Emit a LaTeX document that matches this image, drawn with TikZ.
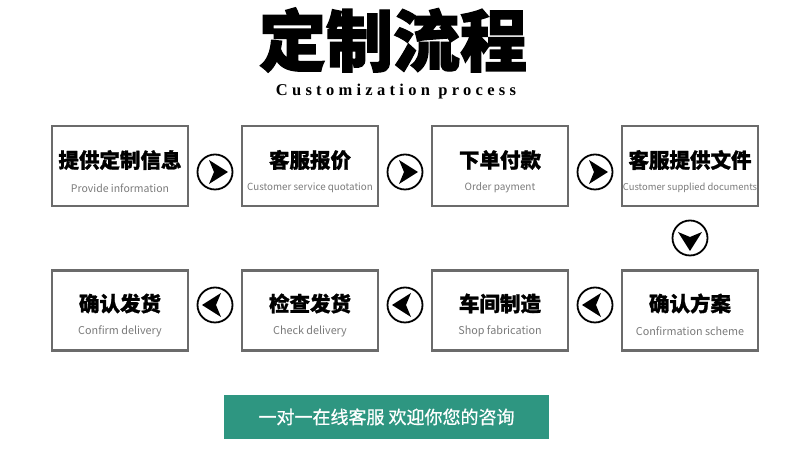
\documentclass[tikz,border=0pt]{standalone}
\usepackage{fontspec}
\newfontfamily\zhfont{Noto Sans CJK SC}[BoldFeatures={FakeBold=1.2}]
\newfontfamily\titlefont{Noto Sans CJK SC}[BoldFeatures={FakeBold=2}]
\newfontfamily\barfont{Noto Sans CJK SC}[FakeBold=0.8]
\newfontfamily\subfont{Liberation Serif}[LetterSpace=26]
\definecolor{boxgray}{HTML}{6B6B6B}
\definecolor{engray}{HTML}{7A7A7A}
\definecolor{bargreen}{HTML}{2E9681}

\begin{document}
\begin{tikzpicture}[x=1pt,y=1pt,node distance=190pt]

\tikzstyle{bx} = [rectangle, minimum width=136pt, minimum height=80pt, draw=boxgray, line width=2.4pt]
\tikzstyle{ci} = [circle, minimum size=35pt, inner sep=0pt, draw=black, line width=1.8pt]
\tikzstyle{zh} = [inner sep=0pt, font=\zhfont\bfseries\fontsize{20.5}{20.5}\selectfont]
\tikzstyle{en} = [inner sep=0pt, text=engray, font=\zhfont\fontsize{10.8}{10.8}\selectfont]
\useasboundingbox (0,0) rectangle (790,449);

\node (title) at (393,409) {\titlefont\bfseries\fontsize{67}{67}\selectfont 定制流程};
\node (sub) at (396,357) {\subfont\bfseries\fontsize{16.5}{16.5}\selectfont Customization process};

% top row
\node (b1) [bx] at (120,283) {};
\node (b2) [bx, right of=b1] {};
\node (b3) [bx, right of=b2] {};
\node (b4) [bx, right of=b3] {};
% bottom row
\node (b5) [bx, below of=b4, node distance=144.5pt] {};
\node (b6) [bx, left of=b5] {};
\node (b7) [bx, left of=b6] {};
\node (b8) [bx, left of=b7] {};

\node (z1) [zh] at ([yshift=6]b1.center) {提供定制信息};
\node (e1) [en, font=\zhfont\fontsize{10.5}{10.5}\selectfont] at ([yshift=-22]b1.center) {Provide information};
\node (z2) [zh] at ([yshift=6]b2.center) {客服报价};
\node (e2) [en, font=\zhfont\fontsize{9.8}{9.8}\selectfont] at ([yshift=-22]b2.center) {Customer service quotation};
\node (z3) [zh] at ([yshift=6]b3.center) {下单付款};
\node (e3) [en, font=\zhfont\fontsize{10}{10}\selectfont] at ([yshift=-22]b3.center) {Order payment};
\node (z4) [zh] at ([yshift=6]b4.center) {客服提供文件};
\node (e4) [en, font=\zhfont\fontsize{9.4}{9.4}\selectfont] at ([yshift=-22]b4.center) {Customer supplied documents};
\node (z5) [zh] at ([yshift=7]b5.center) {确认方案};
\node (e5) [en] at ([yshift=-21]b5.center) {Confirmation scheme};
\node (z6) [zh] at ([yshift=7]b6.center) {车间制造};
\node (e6) [en] at ([yshift=-21]b6.center) {Shop fabrication};
\node (z7) [zh] at ([yshift=7]b7.center) {检查发货};
\node (e7) [en] at ([yshift=-21]b7.center) {Check delivery};
\node (z8) [zh] at ([yshift=7]b8.center) {确认发货};
\node (e8) [en] at ([yshift=-21]b8.center) {Confirm delivery};

% turn markers between the steps
\node (c1) [ci, right of=b1, node distance=95pt, yshift=-6pt] {};
\node (c2) [ci, right of=b2, node distance=95pt, yshift=-6pt] {};
\node (c3) [ci, right of=b3, node distance=95pt, yshift=-6pt] {};
\node (c4) [ci, below of=b4, node distance=72pt] {};
\node (c5) [ci, left of=b5, node distance=95pt, yshift=5.5pt] {};
\node (c6) [ci, left of=b6, node distance=95pt, yshift=5.5pt] {};
\node (c7) [ci, left of=b7, node distance=95pt, yshift=5.5pt] {};
\fill[shift={(c1)}] (13,0) -- (-6,12) -- (-1,0) -- (-6,-12) -- cycle;
\fill[shift={(c2)}] (13,0) -- (-6,12) -- (-1,0) -- (-6,-12) -- cycle;
\fill[shift={(c3)}] (13,0) -- (-6,12) -- (-1,0) -- (-6,-12) -- cycle;
\fill[shift={(c4)},rotate=-90] (13,0) -- (-6,12) -- (-1,0) -- (-6,-12) -- cycle;
\fill[shift={(c5)},rotate=180] (13,0) -- (-6,12) -- (-1,0) -- (-6,-12) -- cycle;
\fill[shift={(c6)},rotate=180] (13,0) -- (-6,12) -- (-1,0) -- (-6,-12) -- cycle;
\fill[shift={(c7)},rotate=180] (13,0) -- (-6,12) -- (-1,0) -- (-6,-12) -- cycle;

\node (bar) [fill=bargreen, minimum width=325pt, minimum height=44pt, text=white,
  font=\barfont\fontsize{18}{18}\selectfont] at (386.5,32) {一对一在线客服 欢迎你您的咨询};
\end{tikzpicture}
\end{document}
